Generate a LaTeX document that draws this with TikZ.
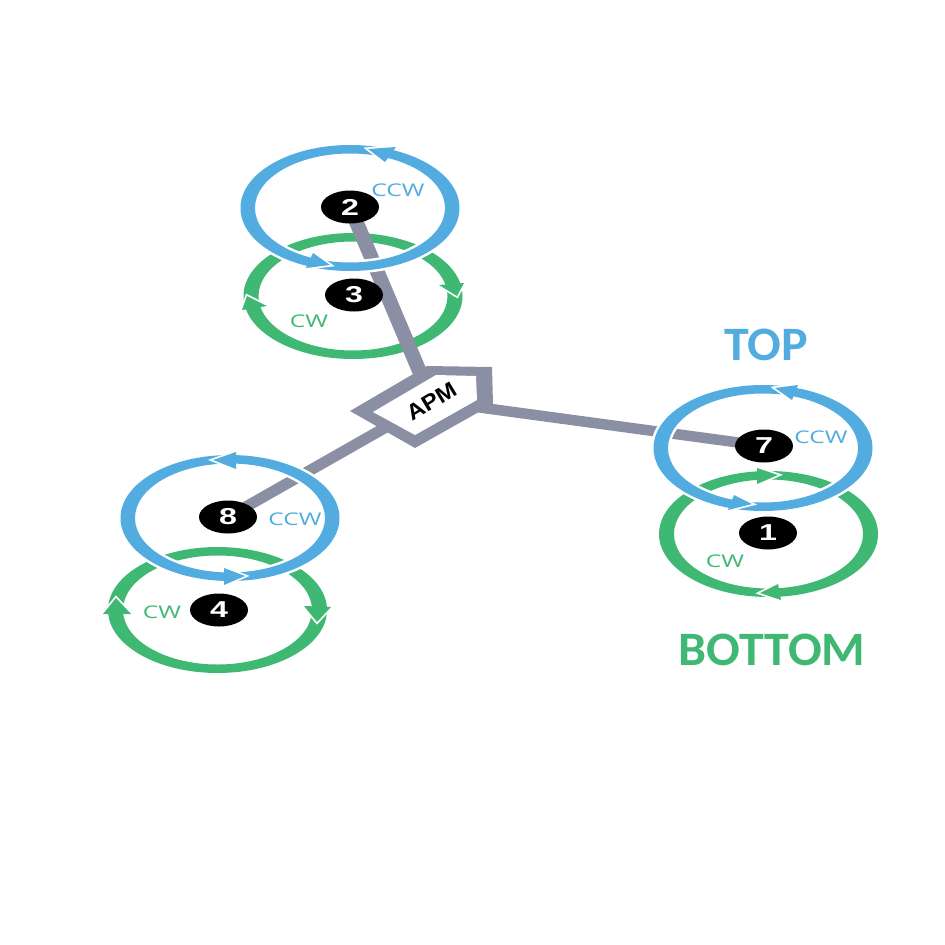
\documentclass[tikz,border=0pt]{standalone}
\usepackage{fontspec}
\usepackage{graphicx}
\setmainfont{Liberation Sans}
\newfontfamily\labelfont{Open Sans}
\newfontfamily\capfont{Carlito}
\usetikzlibrary{backgrounds}
\usetikzlibrary{shapes.geometric}
\definecolor{topblue}{HTML}{52ACE0}
\definecolor{botgreen}{HTML}{3FB873}
\definecolor{armgray}{HTML}{8A8FA3}
\tikzset{
  x=1pt,y=-1pt,
  numnode/.style={fill=black,ellipse,inner sep=0pt,minimum width=58pt,minimum height=33pt,text=white,font=\fontsize{23}{23}\selectfont\bfseries},
  armline/.style={draw=armgray,line width=#1},
  rotlabel/.style={font=\fontsize{17.5}{17.5}\selectfont\labelfont,inner sep=0pt},
  cwlabel/.style={rotlabel,text=botgreen},
  ccwlabel/.style={rotlabel,text=topblue},
  biglabel/.style={font=\fontsize{48}{48}\selectfont\capfont\bfseries,inner sep=0pt},
}
\newcommand{\wide}[1]{\scalebox{1.4}[1]{#1}}
\newcommand{\bigwide}[1]{\scalebox{1.04}[1]{#1}}
\newcommand{\ringgreen}[1]{\fill[botgreen,even odd rule] #1 ellipse [x radius=109.5,y radius=63] #1 ellipse [x radius=94.5,y radius=54.5];}
\newcommand{\ringblue}[1]{\draw[white,line width=5pt] #1 ellipse [x radius=109.5,y radius=63] #1 ellipse [x radius=95,y radius=54.5];
  \fill[topblue,even odd rule] #1 ellipse [x radius=109.5,y radius=63] #1 ellipse [x radius=95,y radius=54.5];}
\newcommand{\ringhead}[4]{\draw[white,line width=3.5pt,miter limit=10] #3 -- #2 -- #4;
  \fill[#1] #3 -- #2 -- #4 -- cycle;}
\begin{document}
\begin{tikzpicture}
\useasboundingbox (0,0) rectangle (945,945);
% named nodes
\node[numnode] (n2) at (350,207) {\wide{2}};
\node[numnode] (n3) at (354,295) {\wide{3}};
\node[numnode] (n7) at (764,446) {\wide{7}};
\node[numnode] (n1) at (768,533) {\wide{1}};
\node[numnode] (n8) at (228,517) {\wide{8}};
\node[numnode] (n4) at (219,610) {\wide{4}};
\node[font=\fontsize{22}{22}\selectfont\bfseries,rotate=31,inner sep=0pt] (apm) at (432,401) {\scalebox{1.1}[1]{APM}};
\node[ccwlabel] at (398,190) {\wide{CCW}};
\node[cwlabel] at (309,321) {\wide{CW}};
\node[ccwlabel] at (821,437) {\wide{CCW}};
\node[cwlabel] at (725,561) {\wide{CW}};
\node[ccwlabel] at (295,519) {\wide{CCW}};
\node[cwlabel] at (162,612) {\wide{CW}};
\node[biglabel,text=topblue] at (766,345) {\bigwide{TOP}};
\node[biglabel,text=botgreen] at (772,650) {\bigwide{BOTTOM}};
\begin{pgfonlayer}{background}
\fill[white] (0,0) rectangle (945,945);
% green rings
\ringgreen{(353,296)}
\ringgreen{(768.5,534)}
\ringgreen{(217.5,610)}
\ringhead{botgreen}{(457,296)}{(464,283)}{(439,285)}
\ringhead{botgreen}{(247,296)}{(242,310)}{(267,306)}
\ringhead{botgreen}{(778,475)}{(757,468)}{(757,484)}
\ringhead{botgreen}{(760,593)}{(778,584)}{(781,600)}
\ringhead{botgreen}{(116,598)}{(103,614)}{(131,614)}
\ringhead{botgreen}{(317,622)}{(304,606)}{(331,607)}
% arms
\draw[armline=14.5pt] (n2.center) -- (apm.center);
\draw[armline=10.5pt] (n7.center) -- (apm.center);
\draw[armline=11pt] (n8.center) -- (apm.center);
% blue rings
\ringblue{(350,208)}
\ringblue{(763,448)}
\ringblue{(230,518)}
\ringhead{topblue}{(368,149)}{(396,147)}{(385,162)}
\ringhead{topblue}{(330,265)}{(313,253)}{(306,268)}
\ringhead{topblue}{(775,388)}{(798,385)}{(792,400)}
\ringhead{topblue}{(752,504)}{(734,495)}{(728,510)}
\ringhead{topblue}{(213,460)}{(236,452)}{(236,469)}
\ringhead{topblue}{(245,576)}{(224,568)}{(224,585)}
% APM body
\fill[armgray] (350,411) -- (427,366) -- (492,367) -- (493,404) -- (415,448) -- cycle;
\fill[white] (373,412) -- (436,375) -- (476,376) -- (477,400) -- (415,435) -- cycle;
\end{pgfonlayer}
\end{tikzpicture}
\end{document}
